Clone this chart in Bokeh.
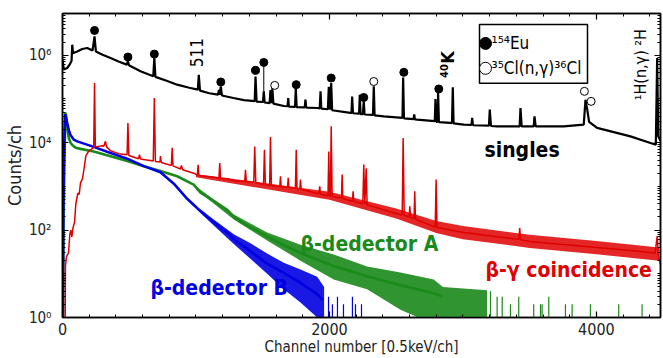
from bokeh.plotting import figure
from bokeh.models import (LogAxis, LinearAxis, FixedTicker, CustomJSTickFormatter,
                          Label, Range1d, LinearScale)
from bokeh.core.properties import value
from bokeh.embed import file_html
from bokeh.resources import INLINE

# ---------------- data ----------------
x_major_ticks = [0, 2000, 4000]
x_minor_ticks = [0, 200, 400, 600, 800, 1000, 1200, 1400, 1600, 1800, 2000, 2200,
                 2400, 2600, 2800, 3000, 3200, 3400, 3600, 3800, 4000, 4200, 4400]
y_major_ticks = [1, 1e2, 1e4, 1e6]
y_minor_ticks = [k * 10 ** n for n in range(7) for k in range(1, 10)]

# singles (black)
singles_ch = [0, 10, 35, 55, 68, 73, 79, 90, 110, 148, 185, 225, 240, 250, 300, 360, 420,
              482, 490, 498, 584, 680, 688, 696, 780, 859, 950, 1014, 1021, 1030, 1100,
              1165, 1172, 1178, 1186, 1194, 1280, 1360, 1440, 1446, 1454, 1502, 1508, 1514,
              1552, 1558, 1565, 1572, 1580, 1658, 1686, 1691, 1696, 1742, 1748, 1754, 1815,
              1820, 1826, 1908, 1927, 1933, 1939, 1988, 1995, 2004, 2013, 2020, 2157, 2165,
              2170, 2176, 2222, 2227, 2233, 2250, 2257, 2263, 2326, 2332, 2338, 2407, 2547,
              2552, 2558, 2630, 2635, 2640, 2657, 2789, 2794, 2800, 2809, 2814, 2820, 2906,
              2918, 2924, 2930, 3006, 3064, 3069, 3075, 3195, 3201, 3210, 3256, 3425, 3431,
              3440, 3530, 3536, 3545, 3755, 3905, 3918, 3930, 3945, 4005, 4255, 4405, 4445,
              4455, 4463, 4480]
singles_counts = [7.9e5, 4.7e5, 5.1e5, 6.2e5, 7.5e5, 1.74e6, 1.1e6, 1.15e6, 1.22e6, 1.39e6,
                  1.46e6, 1.28e6, 2.69e6, 1.22e6, 1.02e6, 8.6e5, 7.2e5, 6.1e5, 7.3e5, 5.9e5,
                  4.3e5, 3.3e5, 8.6e5, 3.2e5, 2.6e5, 2.12e5, 1.8e5, 1.63e5, 3.58e5, 1.55e5,
                  1.35e5, 1.25e5, 1.6e5, 1.25e5, 1.94e5, 1.2e5, 1.05e5, 9.4e4, 8.9e4, 3.27e5,
                  8.7e4, 8.5e4, 1.49e5, 8.3e4, 8.0e4, 1.6e5, 8.0e4, 1.75e5, 7.8e4, 6.9e4,
                  6.8e4, 1.05e5, 6.7e4, 6.6e4, 1.78e5, 6.5e4, 6.4e4, 9.6e4, 6.3e4, 6.2e4,
                  6.1e4, 1.49e5, 6.0e4, 5.8e4, 1.9e5, 5.7e4, 2.32e5, 5.5e4, 4.8e4, 4.8e4,
                  1.14e5, 4.7e4, 4.6e4, 1.25e5, 4.5e4, 4.5e4, 8.8e4, 4.4e4, 4.3e4, 1.94e5,
                  4.2e4, 4.0e4, 3.7e4, 3.1e5, 3.6e4, 3.45e4, 4.4e4, 3.4e4, 3.36e4, 3.1e4,
                  1.0e5, 3.0e4, 3.0e4, 1.37e5, 2.95e4, 2.82e4, 2.8e4, 1.84e5, 2.75e4, 2.58e4,
                  2.55e4, 3.67e4, 2.5e4, 2.45e4, 5.7e4, 2.4e4, 2.36e4, 2.36e4, 6.2e4, 2.36e4,
                  2.36e4, 4.0e4, 2.36e4, 2.36e4, 2.58e4, 9.6e4, 6.0e4, 3.0e4, 2.17e4, 1.39e4,
                  9.8e3, 9.0e3, 8.6e5, 1.4e4, 1.1e4]

# beta-gamma coincidence (red)
red_ch = [20, 22, 30, 45, 55, 62, 70, 78, 90, 100, 115, 125, 135, 150, 165, 175, 195, 215,
          234, 240, 246, 300, 309, 322, 330, 360, 420, 484, 490, 497, 570, 577, 584, 680,
          688, 696, 730, 734, 740, 815, 822, 828, 884, 891, 900, 983, 1010, 1016, 1022,
          1034, 1109, 1172, 1178, 1184, 1234, 1283, 1365, 1371, 1377, 1433, 1440, 1448,
          1506, 1513, 1520, 1552, 1558, 1565, 1628, 1633, 1638, 1686, 1691, 1696, 1745,
          1751, 1757, 1778, 1783, 1788, 1908, 1920, 1927, 1933, 1989, 1995, 2000, 2007,
          2013, 2020, 2090, 2095, 2100, 2157, 2172, 2177, 2182, 2250, 2257, 2265, 2275,
          2282, 2407, 2532, 2545, 2552, 2560, 2597, 2602, 2607, 2634, 2639, 2644, 2657,
          2781, 2792, 2799, 2806, 2906, 3006, 3256, 3420, 3425, 3432, 3506, 3755, 4005,
          4255, 4440, 4455, 4465, 4480]
red_counts = [0.5, 15, 25, 30, 80, 100, 70, 110, 150, 400, 700, 650, 1200, 1500, 3000,
              5000, 6300, 7000, 7800, 2.32e5, 8000, 8500, 8300, 1.07e4, 8000, 6500, 5600,
              5300, 2.82e4, 5100, 4300, 5300, 4200, 3800, 1.05e5, 3700, 3600, 4900, 3500,
              3000, 7600, 2950, 2500, 3000, 2400, 2000, 1800, 3100, 1780, 1750, 1650, 1550,
              3400, 1530, 1500, 1350, 1290, 2400, 1280, 1240, 8200, 1230, 1100, 6900, 1100,
              1050, 1.35e4, 1050, 980, 1700, 970, 950, 1560, 940, 900, 6900, 880, 870, 1430,
              860, 690, 680, 1000, 670, 610, 6300, 600, 595, 2.36e4, 590, 540, 1860, 530,
              470, 460, 771, 455, 400, 3140, 390, 2600, 380, 290, 225, 222, 1.28e4, 218, 200,
              350, 195, 185, 770, 180, 170, 120, 118, 1430, 115, 100, 88, 70, 62, 112, 60,
              55, 47, 40, 34, 30, 72, 25, 16]
red_band_ch = [1000, 1500, 2000, 2500, 2800, 3000, 3500, 4000, 4470]
red_band_lo = [1620, 890, 495, 185, 86, 62, 39, 28, 20]
red_band_hi = [1890, 1215, 750, 312, 162, 124, 78, 56, 40]

# beta-detector A (green)
green_ch = [3, 8, 14, 19, 22, 30, 40, 47, 60, 73, 100, 135, 234, 360, 485, 609, 734, 859,
            983, 1034, 1109, 1234, 1283, 1358, 1483, 1533, 1658, 1783, 2032, 2282, 2532,
            2781, 2850]
green_counts = [0.5, 200, 3000, 2.0e4, 4.8e4, 3.6e4, 1.8e4, 1.28e4, 1.0e4, 8.8e3, 7.6e3,
                7.2e3, 6.3e3, 4.9e3, 3.8e3, 2.9e3, 2.25e3, 1.7e3, 1.1e3, 720, 520, 290, 200,
                140, 86, 72, 45, 30, 15, 8.8, 5.5, 3.6, 3.0]
green_band_ch = [1000, 1283, 1533, 1783, 2032, 2282, 2532, 2781, 2850, 3180]
green_band_lo = [850, 175, 58, 20, 7.4, 4.4, 1.5, 0.7, 0.5, 0.5]
green_band_hi = [1000, 228, 88, 46, 27.5, 14.6, 10.7, 7.4, 5.0, 4.2]
green_spike_ch = [3206, 3256, 3294, 3356, 3418, 3530, 3581, 3593, 3643, 3768, 3818, 3955,
                  4167, 4342]
green_spike_counts = [4, 3, 3, 2, 3, 2, 2, 2, 3, 2, 2, 2, 2, 2]

# beta-detector B (blue)
blue_ch = [3, 6, 10, 15, 20, 28, 35, 50, 60, 85, 110, 234, 360, 485, 609, 734, 834, 934,
           1034, 1133, 1234, 1283, 1408, 1533, 1658, 1783, 1908, 1950]
blue_counts = [0.5, 200, 3000, 1.5e4, 4.5e4, 3.5e4, 2.8e4, 1.8e4, 1.5e4, 1.17e4, 1.07e4,
               8.0e3, 5.8e3, 4.3e3, 2.9e3, 2.1e3, 1.15e3, 520, 270, 150, 88, 62, 33, 17,
               10.5, 6.2, 3.4, 2.5]
blue_band_ch = [1034, 1133, 1283, 1408, 1533, 1658, 1783, 1908, 1960]
blue_band_lo = [245, 128, 48, 22, 10, 4.4, 2.2, 1.0, 0.5]
blue_band_hi = [300, 175, 80, 50, 29, 18, 12.5, 8.6, 5.0]
blue_spike_ch = [1993, 2022, 2060, 2105, 2172, 2195, 2240]
blue_spike_counts = [3, 2, 3, 2, 3, 2, 2]

# peak identification markers
eu_ch = [240, 490, 688, 1186, 1446, 1508, 1751, 2013, 2257, 2557, 2819]
eu_counts = [3.69e6, 9.1e5, 1.06e6, 2.44e5, 4.5e5, 6.84e5, 2.12e5, 3.01e5, 1.08e5, 4.05e5,
             1.69e5]
eu_pointer_ch = [1508]
eu_pointer_top = [6.84e5]
eu_pointer_bottom = [1.49e5]
cl_ch = [1590, 2332, 3910, 3960]
cl_counts = [2.04e5, 2.5e5, 1.49e5, 8.8e4]

# ---------------- styling ----------------
FONT = "DejaVu Sans Condensed"
BLACK = "#000000"
RED = "#e00000"
GREEN = "#1a8a1a"
BLUE = "#0000e0"
TXT = "#222222"

p = figure(width=663, height=358, x_range=Range1d(0, 4480), y_range=Range1d(1, 9e6),
           y_axis_type="log", output_backend="svg", toolbar_location=None,
           min_border_left=62, min_border_right=3, min_border_top=13, min_border_bottom=40)
p.grid.visible = False
p.outline_line_color = "black"
p.outline_line_width = 1.5
p.background_fill_color = "white"
p.border_fill_color = "white"

x_ticker = FixedTicker(ticks=x_major_ticks, minor_ticks=x_minor_ticks)
y_ticker = FixedTicker(ticks=y_major_ticks, minor_ticks=y_minor_ticks)

sup_code = """
const sup = {"0":"\u2070","1":"\u00b9","2":"\u00b2","3":"\u00b3","4":"\u2074",
             "5":"\u2075","6":"\u2076","7":"\u2077","8":"\u2078","9":"\u2079","-":"\u207b"};
const e = Math.round(Math.log10(tick));
return "10" + String(e).split("").map(c => sup[c]).join("");
"""


def style_axis(ax):
    ax.axis_line_color = "black"
    ax.axis_line_width = 1.5
    ax.major_tick_line_color = "black"
    ax.minor_tick_line_color = "black"
    ax.major_tick_line_width = 1.2
    ax.minor_tick_line_width = 1
    ax.major_tick_in = 6
    ax.major_tick_out = 0
    ax.minor_tick_in = 3
    ax.minor_tick_out = 0


xb = p.xaxis[0]
xb.ticker = x_ticker
style_axis(xb)
xb.major_label_text_font = FONT
xb.major_label_text_font_size = "16px"
xb.major_label_text_color = TXT
xb.major_label_standoff = 5
xb.axis_label = "Channel number [0.5keV/ch]"
xb.axis_label_text_font = FONT
xb.axis_label_text_font_size = "15px"
xb.axis_label_text_font_style = "normal"
xb.axis_label_text_color = TXT
xb.axis_label_standoff = 0

yl = p.yaxis[0]
yl.ticker = y_ticker
style_axis(yl)
yl.formatter = CustomJSTickFormatter(code=sup_code)
yl.major_label_text_font = FONT
yl.major_label_text_font_size = "15px"
yl.major_label_text_color = TXT
yl.major_label_standoff = 11
yl.axis_label = "Counts/ch"
yl.axis_label_text_font = FONT
yl.axis_label_text_font_size = "18px"
yl.axis_label_text_font_style = "normal"
yl.axis_label_text_color = TXT
yl.axis_label_standoff = 1

top_ax = LinearAxis(ticker=x_ticker, formatter=CustomJSTickFormatter(code="return '';"),
                    major_label_text_font_size="0px", major_label_standoff=0)
style_axis(top_ax)
p.add_layout(top_ax, "above")
right_ax = LogAxis(ticker=y_ticker, formatter=CustomJSTickFormatter(code="return '';"),
                   major_label_text_font_size="0px", major_label_standoff=0)
style_axis(right_ax)
p.add_layout(right_ax, "right")

n_g = len(green_spike_ch)
n_b = len(blue_spike_ch)

# green
p.varea(x=green_band_ch, y1=green_band_lo, y2=green_band_hi, fill_color=GREEN, fill_alpha=0.9)
p.line(green_ch, green_counts, line_color=GREEN, line_width=2.6)
p.segment(x0=green_spike_ch, y0=[0.1] * n_g, x1=green_spike_ch, y1=green_spike_counts,
          line_color=GREEN, line_width=1.2)
# blue
p.varea(x=blue_band_ch, y1=blue_band_lo, y2=blue_band_hi, fill_color=BLUE, fill_alpha=0.9)
p.line(blue_ch, blue_counts, line_color=BLUE, line_width=2.6)
p.segment(x0=blue_spike_ch, y0=[0.1] * n_b, x1=blue_spike_ch, y1=blue_spike_counts,
          line_color=BLUE, line_width=1.2)
# red
p.varea(x=red_band_ch, y1=red_band_lo, y2=red_band_hi, fill_color=RED, fill_alpha=0.85)
p.line(red_ch, red_counts, line_color=RED, line_width=1.5)
# black singles
p.line(singles_ch, singles_counts, line_color=BLACK, line_width=2.2)

# peak markers
p.segment(x0=eu_pointer_ch, y0=eu_pointer_top, x1=eu_pointer_ch, y1=eu_pointer_bottom,
          line_color=BLACK, line_width=1)
p.scatter(eu_ch, eu_counts, marker="circle", size=8, fill_color=BLACK, line_color=BLACK)
p.scatter(cl_ch, cl_counts, marker="circle", size=8, fill_color="white", line_color=BLACK,
          line_width=1)

# series labels
for txt, x, y, col in [("singles", 3161, 6.9e3, BLACK),
                       ("\u03b2-\u03b3 coincidence", 3169, 12.5, RED),
                       ("\u03b2-dedector A", 1783, 49, GREEN),
                       ("\u03b2-dedector B", 659, 4.85, BLUE)]:
    p.add_layout(Label(x=x, y=y, text=txt, text_color=col, text_font=FONT,
                       text_font_size="21px", text_font_style="bold",
                       text_align="left", text_baseline="middle"))

# rotated peak labels (text glyphs, reading bottom to top)
p.text(x=[1004], y=[1.14e6], text=["511"], angle=1.5708,
       text_font=value(FONT), text_font_size="17px", text_color=BLACK,
       text_align="center", text_baseline="middle")
p.text(x=[2884], y=[6.07e5], text=["\u2074\u2070K"], angle=1.5708,
       text_font=value(FONT), text_font_size="18px", text_font_style="bold",
       text_color=BLACK, text_align="center", text_baseline="middle")
p.text(x=[4330], y=[6.07e5], text=["\u00b9H(n,\u03b3) \u00b2H"], angle=1.5708,
       text_font=value(FONT), text_font_size="16px", text_color=BLACK,
       text_align="center", text_baseline="middle")

# legend box (frame pixel coordinates)
p.extra_x_ranges = {"fx": Range1d(0, 598)}
p.extra_y_ranges = {"fy": Range1d(0, 305)}
p.extra_y_scales = {"fy": LinearScale()}
p.quad(left=[417], right=[525], top=[294], bottom=[235], fill_color="white",
       line_color="black", line_width=1.5, x_range_name="fx", y_range_name="fy")
p.scatter([423], [275], marker="circle", size=12, fill_color=BLACK, line_color=BLACK,
          x_range_name="fx", y_range_name="fy")
p.scatter([423], [250], marker="circle", size=12, fill_color="white", line_color=BLACK,
          line_width=1, x_range_name="fx", y_range_name="fy")
p.add_layout(Label(x=429, y=275, text="\u00b9\u2075\u2074Eu", text_font=FONT,
                   text_font_size="17px", text_color=BLACK, text_align="left",
                   text_baseline="middle", x_range_name="fx", y_range_name="fy"))
p.add_layout(Label(x=429, y=250, text="\u00b3\u2075Cl(n,\u03b3)\u00b3\u2076Cl", text_font=FONT,
                   text_font_size="17px", text_color=BLACK, text_align="left",
                   text_baseline="middle", x_range_name="fx", y_range_name="fy"))

open("out.html", "w").write(file_html(p, INLINE))
